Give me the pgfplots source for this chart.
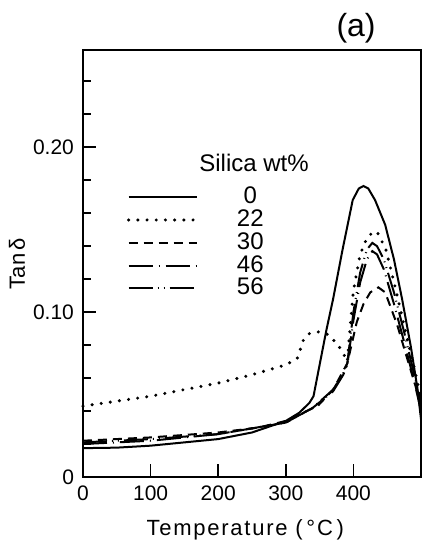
\documentclass[border=0pt]{standalone}
\usepackage{fontspec}
\setmainfont{Liberation Sans}
\newfontfamily\spaced[LetterSpace=8]{Liberation Sans}
\usepackage{pgfplots}
\pgfplotsset{compat=1.18}
\begin{document}
\begin{tikzpicture}
\path[use as bounding box] (-41.5pt,-37pt) rectangle (169.5pt,238.5pt);
\begin{axis}[
  at={(0,0)}, anchor=south west,
  scale only axis, width=169pt, height=213.5pt,
  xmin=0, xmax=500, ymin=0, ymax=0.259,
  clip=false,
  axis line style={line width=1pt},
  every tick/.style={line width=0.9pt, black},
  tick align=inside,
  xtick pos=bottom, ytick pos=left,
  xtick={0,100,200,300,400},
  ytick={0,0.1,0.2},
  yticklabels={0,0.10,0.20},
  minor ytick={0.02,0.04,0.06,0.08,0.12,0.14,0.16,0.18,0.22,0.24},
  major tick length=6.5pt, minor tick length=4pt,
  /pgf/number format/assume math mode=true,
  tick label style={font=\fontsize{10.5}{12}\selectfont},
  yticklabel style={xshift=-1pt},
  xticklabel style={yshift=-1pt},
  xlabel={{\spaced Temperature (\,°C\,)}},
  ylabel={Tan\,δ},
  label style={font=\fontsize{11}{13}\selectfont},
  xlabel style={at={(axis description cs:0.48,0)}, anchor=center, yshift=-26.5pt},
  ylabel style={at={(axis description cs:-0.195,0.5)}, anchor=center},
  legend style={at={(axis description cs:0.13,0.682)}, anchor=north west,
    draw=none, fill=none, inner sep=0pt, outer sep=0pt,
    font=\fontsize{12}{12}\selectfont,
    nodes={inner sep=0pt, text height=9pt, text depth=2.4pt},
    row sep=0pt},
  legend cell align=left,
  legend image code/.code={\draw[#1] (0pt,0pt) -- (34pt,0pt);},
  every axis plot/.append style={line width=1pt, black},
]
% 0 wt%
\addplot[solid] coordinates {
(0,0.0175)(50,0.0178)(100,0.019)(150,0.021)(200,0.023)(250,0.027)(300,0.034)
(320,0.039)(335,0.045)(341,0.049)(350,0.068)(360,0.089)(370,0.108)(384,0.138)
(399,0.168)(408,0.175)(415,0.1765)(422,0.175)(432,0.168)(447,0.153)(460,0.132)
(472,0.108)(485,0.079)(495,0.053)(500,0.035)};
\addlegendentry{\makebox[52pt]{0}}
% 22 wt%
\addplot[line width=1.7pt, line cap=round, dash pattern=on 0pt off 4.6pt] coordinates {
(0,0.043)(50,0.046)(100,0.049)(150,0.053)(200,0.057)(250,0.062)(300,0.068)
(317,0.072)(326,0.083)(335,0.087)(348,0.088)(360,0.087)(376,0.081)(385,0.075)
(391,0.07)(395,0.09)(400,0.113)(410,0.135)(420,0.145)(430,0.149)(436,0.148)
(448,0.138)(459,0.12)(475,0.092)(490,0.066)(500,0.048)};
\addlegendentry{\makebox[52pt]{22}}
% 30 wt%
\addplot[dash pattern=on 4.5pt off 3pt] coordinates {
(0,0.022)(100,0.024)(200,0.027)(260,0.030)(300,0.034)(320,0.038)(347,0.043)
(370,0.053)(391,0.069)(405,0.094)(415,0.105)(425,0.112)(437,0.115)(447,0.112)
(465,0.092)(478,0.074)(492,0.055)(500,0.043)};
\addlegendentry{\makebox[52pt]{30}}
% 46 wt%
\addplot[dash pattern=on 12pt off 3pt on 0.5pt off 3pt] coordinates {
(0,0.020)(100,0.022)(200,0.026)(300,0.033)(340,0.042)(370,0.052)(385,0.062)
(391,0.068)(400,0.095)(410,0.118)(420,0.132)(428,0.137)(435,0.135)(445,0.126)
(460,0.105)(475,0.082)(490,0.058)(500,0.040)};
\addlegendentry{\makebox[52pt]{46}}
% 56 wt%
\addplot[dash pattern=on 12pt off 2.5pt on 0.5pt off 2.5pt on 0.5pt off 2.5pt] coordinates {
(0,0.021)(100,0.023)(200,0.026)(300,0.033)(340,0.042)(370,0.053)(385,0.063)
(391,0.069)(400,0.10)(410,0.124)(420,0.138)(428,0.142)(435,0.140)(445,0.132)
(460,0.112)(475,0.088)(490,0.062)(500,0.045)};
\addlegendentry{\makebox[52pt]{56}}
\node[font=\fontsize{12}{12}\selectfont, anchor=center] at (axis description cs:0.506,0.735) {Silica wt\%};
\node[font=\fontsize{16}{16}\selectfont, anchor=center] at (axis description cs:0.808,1.0515) {(a)};
\end{axis}
\end{tikzpicture}
\end{document}
